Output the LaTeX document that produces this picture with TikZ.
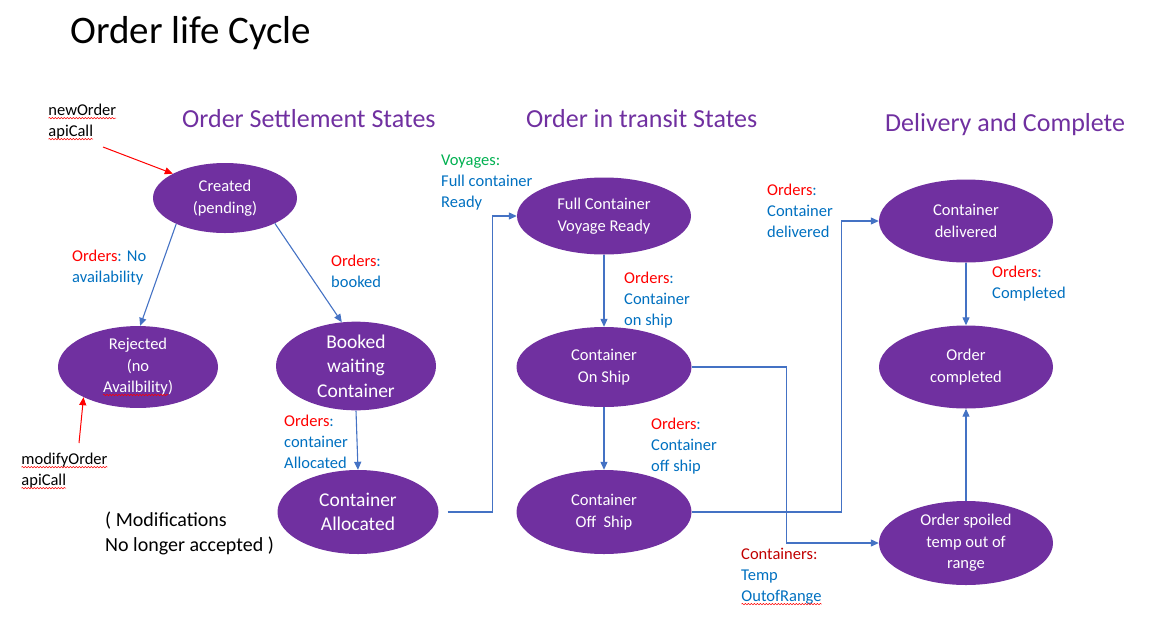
\documentclass[tikz,border=0pt]{standalone}
\usepackage{fontspec}
\setmainfont{Carlito}
\usetikzlibrary{
  shapes.geometric, % For ellipse states
  arrows.meta, % For arrow tips
  decorations.pathmorphing % For spell-check squiggles
}

\definecolor{statepurple}{HTML}{7030A0}
\definecolor{flowblue}{HTML}{4472C4}
\definecolor{lblblue}{HTML}{0070C0}
\definecolor{lblred}{HTML}{FF0000}
\definecolor{lblgreen}{HTML}{00B050}
\definecolor{lbldark}{HTML}{C00000}

% red wavy underline as in the word processor
\newcommand{\squig}[1]{\tikz[baseline=(sq.base)]{\node[rectangle, inner sep=0pt, outer sep=0pt,
    minimum width=0pt, minimum height=0pt, fill=none, draw=none] (sq) {#1};
  \draw[red, line width=0.5pt, decorate, decoration={snake, amplitude=0.7pt, segment length=3pt}]
  ([yshift=-2.5pt]sq.base west) -- ([yshift=-2.5pt]sq.base east);}}
\newcommand{\ord}{{\color{lblred}Orders}:}

\begin{document}
\begin{tikzpicture}[
    x=1pt, y=-1pt, % pixel grid, y downwards
    >=Triangle,
    state/.style={ellipse, fill=statepurple, draw=none, text=white, align=center,
      inner sep=0pt, font=\fontsize{16.5}{21.5}\selectfont}, % Style for states
    bigstate/.style={state, font=\fontsize{19.5}{24.5}\selectfont},
    flow/.style={flowblue, line width=1.1pt, -{Triangle[length=8pt, width=7pt]}}, % transitions
    call/.style={red, line width=1pt, -{Triangle[length=8pt, width=7pt]}}, % api calls
    lbl/.style={anchor=north west, inner sep=0pt, align=left, text=lblblue,
      font=\fontsize{16.5}{21}\selectfont}, % transition labels
    header/.style={anchor=west, inner sep=0pt, text=statepurple, font=\fontsize{26}{30}\selectfont},
  ]
    \useasboundingbox (0,0) rectangle (1149,622);

    % Titel
    \node[anchor=west, inner sep=0pt, font=\fontsize{39}{44}\selectfont] (title) at (70,33) {Order life Cycle};
    \node[header] (hsettle) at (182,119) {Order Settlement States};
    \node[header] (htransit) at (526,119) {Order in transit States};
    \node[header] (hdeliver) at (885,125) {Delivery and Complete};

    % Zustaende
    \node[state, minimum width=144pt, minimum height=70pt] (created) at (225,198) {Created\\(pending)};
    \node[state, minimum width=160pt, minimum height=73pt] (rejected) at (138,367) {Rejected\\(no\\\squig{Availbility})};
    \node[bigstate, minimum width=160pt, minimum height=80pt] (booked) at (356,366) {Booked\\waiting\\Container};
    \node[bigstate, minimum width=161pt, minimum height=84pt] (alloc) at (358,512) {Container\\Allocated};
    \node[state, minimum width=174pt, minimum height=77pt] (full) at (604,216) {Full Container\\Voyage Ready};
    \node[state, minimum width=175pt, minimum height=80pt] (onship) at (604,367) {Container\\On Ship};
    \node[state, minimum width=175pt, minimum height=84pt] (offship) at (604,512) {Container\\Off\ \ Ship};
    \node[state, minimum width=174pt, minimum height=83pt] (delivered) at (966,221) {Container\\delivered};
    \node[state, minimum width=174pt, minimum height=83pt] (completed) at (966,367) {Order\\completed};
    \node[state, minimum width=174pt, minimum height=84pt] (spoiled) at (966,543) {Order spoiled\\temp out of\\range};

    % Beschriftungen
    \node[lbl, text=black] (newcall) at (48,104) {\squig{newOrder}\\\squig{apiCall}};
    \node[lbl, text=black] (modcall) at (21,453) {\squig{modifyOrder}\\\squig{apiCall}};
    \node[lbl, text=black, font=\fontsize{20}{25}\selectfont] (nomod) at (105,512) {( Modifications\\No longer accepted )};
    \node[lbl] (lnoavail) at (72,250) {\ord{} No\\availability};
    \node[lbl] (lbooked) at (331,255) {\ord\\booked};
    \node[lbl] (lalloc) at (284,415) {\ord\\container\\Allocated};
    \node[lbl] (lvoyage) at (441,155) {{\color{lblgreen}Voyages:}\\Full container\\Ready};
    \node[lbl] (lonship) at (624,272) {\ord\\Container\\on ship};
    \node[lbl] (loffship) at (651,418) {\ord\\Container\\off ship};
    \node[lbl] (ltemp) at (741,548) {{\color{lbldark}Containers:}\\Temp\\\squig{OutofRange}};
    \node[lbl] (ldeliv) at (767,184) {\ord\\Container\\delivered};
    \node[lbl] (ldone) at (992,266) {\ord\\Completed};

    % API Aufrufe
    \coordinate (newstart) at (103,147);
    \coordinate (modstart) at (79,443);
    \draw[call] (newstart) -- (created.155);
    \draw[call] (modstart) -- (rejected.209);

    % Uebergaenge
    \draw[flow] (created.208) -- (rejected.87);
    \draw[flow] (created.333) -- (booked.108);
    \draw[flow] (booked.south) -- (alloc.north);
    \draw[flow] ([xshift=9pt]alloc.east) -- ++(45,0) |- (full.west);
    \draw[flow] (full.south) -- (onship.north);
    \draw[flow] (onship.south) -- (offship.north);
    \draw[flow] (onship.east) -- ++(95,0) |- (spoiled.west);
    \draw[flow] (offship.east) -- ++(150,0) |- (delivered.west);
    \draw[flow] (delivered.south) -- (completed.north);
    \draw[flow] (spoiled.north) -- (completed.south);

  \end{tikzpicture}
\end{document}
